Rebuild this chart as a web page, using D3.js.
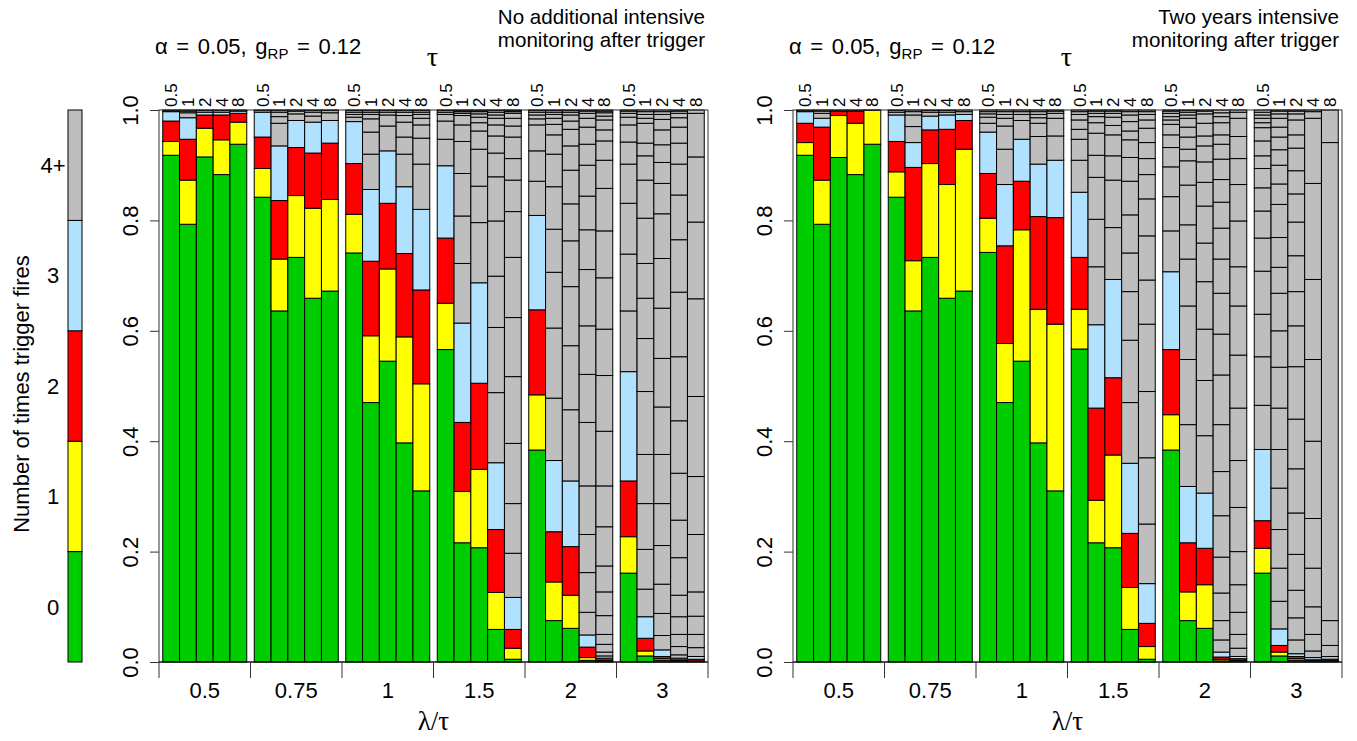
<!DOCTYPE html>
<html><head><meta charset="utf-8">
<script src="https://cdn.jsdelivr.net/npm/d3@7"></script>
<style>body{margin:0;background:#fff} svg{display:block}</style>
</head><body>
<svg id="chart" width="1357" height="741"></svg>
<script>
// ---------- labels ----------
const ratioLabels = ["0.5","0.75","1","1.5","2","3"];
const tauLabels = ["0.5","1","2","4","8"];
const countLabels = ["0","1","2","3","4+"];
const countColors = ["#00CD00","#FFFF00","#FF0000","#B0E2FF","#BEBEBE"];
const yTicks = [0,0.2,0.4,0.6,0.8,1.0];

// ---------- data: cumulative proportion reached after 0,1,2,3,4,... trigger fires ----------
// Left panel: no additional intensive monitoring after trigger
const left_r05 = [
  [0.918,0.943,0.980,0.997,0.999],
  [0.793,0.873,0.947,0.986,0.995,0.998],
  [0.915,0.967,0.991,0.996,0.999],
  [0.883,0.946,0.991,0.996,0.999],
  [0.938,0.978,0.994,0.998,0.999]];
const left_r075 = [
  [0.842,0.894,0.951,0.996,0.999],
  [0.636,0.730,0.836,0.935,0.976,0.988,0.996,0.999],
  [0.733,0.845,0.932,0.981,0.993,0.998],
  [0.659,0.822,0.922,0.978,0.989,0.996,0.999],
  [0.672,0.838,0.940,0.981,0.995,0.999]];
const left_r1 = [
  [0.741,0.811,0.903,0.979,0.987,0.992,0.996,0.999],
  [0.470,0.591,0.726,0.856,0.920,0.960,0.984,0.992,0.996,0.999],
  [0.545,0.712,0.831,0.926,0.971,0.991,0.996,0.999],
  [0.397,0.589,0.740,0.861,0.920,0.951,0.978,0.990,0.996,0.999],
  [0.310,0.504,0.674,0.820,0.902,0.949,0.973,0.985,0.992,0.996,0.999]];
const left_r15 = [
  [0.566,0.650,0.768,0.899,0.947,0.980,0.992,0.996,0.999],
  [0.216,0.309,0.434,0.614,0.722,0.808,0.885,0.943,0.973,0.990,0.994,0.997,0.999],
  [0.207,0.349,0.505,0.687,0.796,0.862,0.929,0.962,0.977,0.987,0.993,0.997,0.999],
  [0.059,0.126,0.240,0.361,0.488,0.606,0.699,0.799,0.879,0.922,0.953,0.973,0.985,0.991,0.996,0.999],
  [0.005,0.025,0.059,0.117,0.197,0.287,0.396,0.517,0.624,0.733,0.816,0.873,0.912,0.951,0.971,0.985,0.994,0.997,0.999]];
const left_r2 = [
  [0.384,0.484,0.638,0.809,0.871,0.926,0.973,0.984,0.991,0.996,0.999],
  [0.075,0.145,0.236,0.365,0.478,0.605,0.706,0.784,0.861,0.920,0.955,0.974,0.985,0.992,0.996,0.999],
  [0.061,0.121,0.209,0.328,0.457,0.573,0.680,0.763,0.830,0.891,0.935,0.965,0.980,0.991,0.996,0.999],
  [0.003,0.008,0.027,0.049,0.090,0.162,0.231,0.319,0.434,0.521,0.609,0.711,0.783,0.844,0.900,0.938,0.969,0.985,0.994,0.998],
  [0.001,0.003,0.007,0.011,0.018,0.032,0.050,0.084,0.127,0.174,0.245,0.319,0.418,0.519,0.603,0.696,0.781,0.858,0.909,0.944,0.964,0.982,0.989,0.995,0.998]];
const left_r3 = [
  [0.161,0.227,0.328,0.526,0.636,0.739,0.831,0.902,0.942,0.973,0.987,0.994,0.998],
  [0.011,0.020,0.043,0.082,0.132,0.204,0.287,0.376,0.490,0.586,0.659,0.722,0.804,0.873,0.917,0.940,0.976,0.985,0.992,0.997],
  [0.003,0.006,0.010,0.022,0.048,0.088,0.141,0.211,0.287,0.376,0.462,0.550,0.641,0.731,0.812,0.867,0.905,0.937,0.964,0.983,0.992,0.997],
  [0.001,0.002,0.004,0.007,0.013,0.028,0.050,0.082,0.121,0.189,0.257,0.342,0.437,0.553,0.670,0.765,0.846,0.902,0.940,0.969,0.986,0.994,0.998],
  [0.001,0.002,0.005,0.010,0.026,0.050,0.083,0.127,0.231,0.336,0.481,0.658,0.797,0.915,0.994]];

// Right panel: two years intensive monitoring after trigger
const right_r05 = [
  [0.918,0.941,0.976,0.997,0.999],
  [0.793,0.873,0.969,0.985,0.994,0.998],
  [0.914,0.990,0.998,0.999],
  [0.883,0.976,0.998,0.999],
  [0.938,0.9995]];
const right_r075 = [
  [0.842,0.888,0.943,0.991,0.996,0.999],
  [0.636,0.727,0.896,0.941,0.970,0.991,0.997],
  [0.733,0.903,0.964,0.989,0.996,0.999],
  [0.659,0.865,0.965,0.991,0.996,0.999],
  [0.672,0.929,0.981,0.992,0.997]];
const right_r1 = [
  [0.742,0.804,0.885,0.960,0.976,0.987,0.993,0.997],
  [0.470,0.577,0.754,0.865,0.929,0.971,0.985,0.992,0.997],
  [0.545,0.783,0.871,0.947,0.981,0.992,0.997],
  [0.397,0.639,0.807,0.902,0.952,0.976,0.986,0.992,0.997],
  [0.310,0.612,0.805,0.909,0.953,0.985,0.994,0.998]];
const right_r15 = [
  [0.567,0.639,0.733,0.851,0.909,0.947,0.965,0.982,0.992,0.997],
  [0.216,0.293,0.460,0.611,0.716,0.802,0.878,0.918,0.958,0.977,0.988,0.994,0.998],
  [0.207,0.375,0.515,0.693,0.787,0.873,0.917,0.955,0.972,0.987,0.994,0.998],
  [0.059,0.135,0.233,0.360,0.470,0.583,0.671,0.741,0.810,0.871,0.914,0.946,0.962,0.979,0.991,0.997],
  [0.005,0.028,0.070,0.142,0.250,0.370,0.490,0.612,0.692,0.772,0.839,0.883,0.912,0.941,0.967,0.982,0.992,0.997]];
const right_r2 = [
  [0.384,0.448,0.566,0.707,0.781,0.843,0.897,0.932,0.955,0.974,0.982,0.988,0.994,0.998],
  [0.075,0.127,0.216,0.318,0.430,0.548,0.645,0.730,0.792,0.864,0.908,0.929,0.951,0.969,0.985,0.991,0.996,0.999],
  [0.061,0.140,0.206,0.306,0.410,0.510,0.603,0.689,0.759,0.826,0.869,0.906,0.935,0.953,0.976,0.993,0.998],
  [0.002,0.005,0.009,0.018,0.040,0.075,0.125,0.190,0.265,0.345,0.430,0.520,0.594,0.668,0.730,0.786,0.833,0.874,0.911,0.938,0.955,0.977,0.988,0.995],
  [0.001,0.003,0.006,0.010,0.025,0.050,0.090,0.140,0.200,0.280,0.365,0.460,0.556,0.645,0.716,0.799,0.865,0.912,0.952,0.985,0.996]];
const right_r3 = [
  [0.161,0.206,0.256,0.385,0.465,0.553,0.630,0.708,0.768,0.817,0.859,0.894,0.917,0.944,0.968,0.977,0.985,0.991,0.996],
  [0.011,0.018,0.030,0.060,0.110,0.170,0.240,0.315,0.385,0.460,0.534,0.600,0.668,0.715,0.769,0.829,0.866,0.900,0.928,0.951,0.969,0.985,0.993,0.998],
  [0.003,0.006,0.010,0.015,0.040,0.080,0.130,0.195,0.270,0.350,0.440,0.535,0.609,0.671,0.736,0.797,0.848,0.890,0.931,0.955,0.982,0.993,0.998],
  [0.001,0.002,0.004,0.008,0.020,0.050,0.100,0.170,0.260,0.400,0.548,0.693,0.867,0.985,0.997],
  [0.001,0.002,0.003,0.005,0.010,0.030,0.075,0.941]];

const leftData  = [left_r05, left_r075, left_r1, left_r15, left_r2, left_r3];
const rightData = [right_r05, right_r075, right_r1, right_r15, right_r2, right_r3];

// ---------- drawing ----------
const svg = d3.select("#chart");
const FONT = "'Liberation Sans', Arial, sans-serif";
const SERIF = "'Liberation Serif', 'Times New Roman', serif";
const y = d3.scaleLinear().domain([0,1]).range([662,110]);

function drawPanel(data, x0, x1, noteLines) {
  const g = svg.append("g");
  const xg = d3.scaleBand().domain(ratioLabels).range([x0, x1]).padding(0);
  const pad = 3.75;
  const xb = d3.scaleBand().domain(tauLabels).range([pad, xg.bandwidth() - pad]).padding(0);

  // bars
  ratioLabels.forEach((r, gi) => {
    tauLabels.forEach((t, bi) => {
      const tops = data[gi][bi].concat([1]);
      const segs = tops.map((top, k) => ({lo: k === 0 ? 0 : tops[k-1], hi: top, k}));
      g.selectAll(null).data(segs).enter().append("rect")
        .attr("x", xg(r) + xb(t))
        .attr("width", xb.bandwidth())
        .attr("y", d => y(d.hi))
        .attr("height", d => Math.max(0, y(d.lo) - y(d.hi)))
        .attr("fill", d => countColors[Math.min(d.k, 4)])
        .attr("stroke", "#000")
        .attr("stroke-width", 1);
    });
  });

  // box
  g.append("rect").attr("x", x0).attr("y", y(1)).attr("width", x1 - x0).attr("height", y(0) - y(1))
    .attr("fill", "none").attr("stroke", "#333").attr("stroke-width", 1);

  // y axis
  const ya = g.append("g").attr("transform", `translate(${x0},0)`)
    .call(d3.axisLeft(y).tickValues(yTicks).tickSize(9).tickFormat(d3.format(".1f")));
  ya.select(".domain").remove();
  ya.selectAll("line").attr("stroke", "#333");
  ya.selectAll("text").attr("transform", "rotate(-90)").attr("x", 0).attr("y", -21).attr("dy", 0)
    .attr("text-anchor", "middle").style("font-family", FONT).style("font-size", "22px").attr("fill", "#000");

  // bottom axis: ticks at group boundaries, labels at group centres
  const bounds = ratioLabels.map(r => xg(r)).concat([x1]);
  g.append("line").attr("x1", x0).attr("x2", x1).attr("y1", y(0)).attr("y2", y(0)).attr("stroke", "#000");
  g.selectAll(null).data(bounds).enter().append("line")
    .attr("x1", d => d).attr("x2", d => d).attr("y1", y(0)).attr("y2", y(0) + 16).attr("stroke", "#333");
  g.selectAll(null).data(ratioLabels).enter().append("text")
    .attr("x", d => xg(d) + xg.bandwidth() / 2).attr("y", 698).attr("text-anchor", "middle")
    .style("font-family", FONT).style("font-size", "22px").text(d => d);

  // top tau labels
  ratioLabels.forEach(r => {
    g.selectAll(null).data(tauLabels).enter().append("text")
      .attr("transform", d => `translate(${xg(r) + xb(d) + xb.bandwidth() / 2},${y(1) - 3}) rotate(-90)`)
      .attr("dy", "0.35em").attr("text-anchor", "start")
      .style("font-family", FONT).style("font-size", "17px").text(d => d);
  });

  // titles
  const t = g.append("text").attr("x", x0 - 4).attr("y", 54).style("font-family", FONT)
    .style("font-size", "22px").style("word-spacing", "2.5px");
  t.append("tspan").text("α = 0.05, g");
  t.append("tspan").attr("dy", 5).style("font-size", "15px").text("RP");
  t.append("tspan").attr("dy", -5).text(" = 0.12");
  g.append("text").attr("x", (x0 + x1) / 2 - 1).attr("y", 66).attr("text-anchor", "middle")
    .style("font-family", SERIF).style("font-size", "28px").text("τ");
  g.selectAll(null).data(noteLines).enter().append("text")
    .attr("x", x1 - 3).attr("y", (d, i) => 24 + i * 23).attr("text-anchor", "end")
    .style("font-family", FONT).style("font-size", "20.6px").text(d => d);
  g.append("text").attr("x", (x0 + x1) / 2).attr("y", 730).attr("text-anchor", "middle")
    .style("font-family", SERIF).style("font-size", "27px").text("λ/τ");
}

drawPanel(leftData, 159, 708, ["No additional intensive", "monitoring after trigger"]);
drawPanel(rightData, 793, 1342, ["Two years intensive", "monitoring after trigger"]);

// legend colour bar
const yl = d3.scaleBand().domain(countLabels).range([662, 110]);
const lg = svg.append("g");
lg.selectAll(null).data(countLabels).enter().append("rect")
  .attr("x", 68).attr("width", 14)
  .attr("y", d => yl(d)).attr("height", yl.bandwidth())
  .attr("fill", (d, i) => countColors[i]).attr("stroke", "#000").attr("stroke-width", 1);
lg.selectAll(null).data(countLabels).enter().append("text")
  .attr("x", 53).attr("y", d => yl(d) + yl.bandwidth() / 2).attr("dy", "0.35em").attr("text-anchor", "middle")
  .style("font-family", FONT).style("font-size", "22px").text(d => d);
lg.append("text").attr("transform", "translate(29,394) rotate(-90)").attr("text-anchor", "middle")
  .style("font-family", FONT).style("font-size", "22px").text("Number of times trigger fires");
</script>
</body></html>
